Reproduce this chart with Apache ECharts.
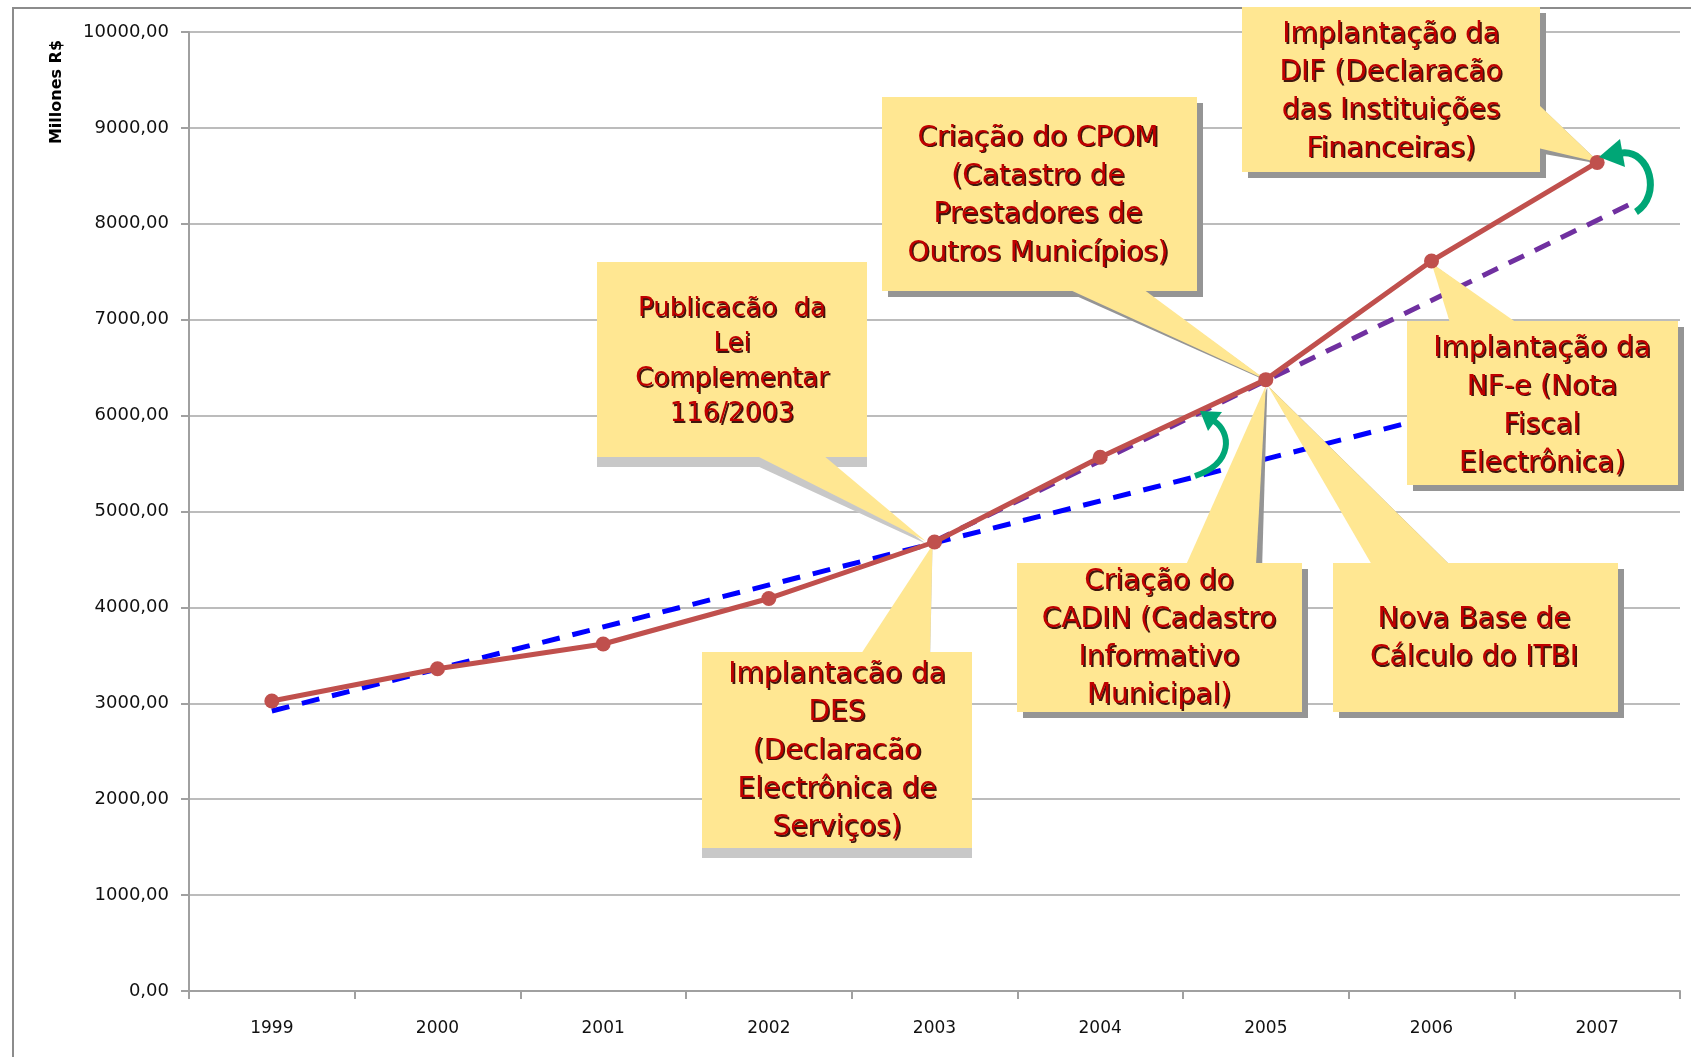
<!DOCTYPE html>
<html><head><meta charset="utf-8">
<script src="https://cdn.jsdelivr.net/npm/echarts@6/dist/echarts.min.js"></script>
<style>html,body{margin:0;padding:0;background:#fff}#c{width:1691px;height:1057px}</style>
</head><body><div id="c"></div>
<script>
// ---- data ----
const years = ['1999','2000','2001','2002','2003','2004','2005','2006','2007'];
const revenue = [3024, 3360, 3618, 4093, 4682, 5566, 6375, 7612, 8640];
const trendBlue = [[0, 2920], [6.85, 5920]];
const trendPurple = [[4, 4690], [8.23, 8230]];
const yMin = 0, yMax = 10000, yStep = 1000;
const axisName = 'Millones R$';
const calloutTexts = [
  'Publicacão  da\nLei\nComplementar\n116/2003',
  'Implantacão da\nDES\n(Declaracão\nElectrônica de\nServiços)',
  'Criação do CPOM\n(Catastro de\nPrestadores de\nOutros Municípios)',
  'Implantação da\nDIF (Declaracão\ndas Instituições\nFinanceiras)',
  'Implantação da\nNF-e (Nota\nFiscal\nElectrônica)',
  'Criação do\nCADIN (Cadastro\nInformativo\nMunicipal)',
  'Nova Base de\nCálculo do ITBI'
];
const calloutYearIndex = [4, 4, 6, 8, 7, 6, 6];

// ---- layout (positions / styles) ----
const layout = [
  {x:597,y:262,w:270,h:195, base:[[755,455],[823,455]], tip:[-9,-1], tx:732, ty:362, lh:35, fs:26, sh:'light'},
  {x:702,y:652,w:270,h:196, base:[[861,654],[930,654]], tip:[-2,3], tx:837, ty:751.5, lh:38.3, fs:28, sh:'light'},
  {x:882,y:97,w:315,h:194, base:[[1068,289],[1143,289]], tip:[0,0], tx:1038, ty:196, lh:38.3, fs:28, sh:'dark'},
  {x:1242,y:7,w:298,h:165, base:[[1538,104],[1538,148]], tip:[2,0], tx:1391, ty:92, lh:38.2, fs:28, sh:'dark'},
  {x:1407,y:321,w:271,h:164, base:[[1450,323],[1517,323]], tip:[0,2], tx:1542, ty:406.5, lh:38.3, fs:28, sh:'dark'},
  {x:1017,y:563,w:285,h:149, base:[[1186,565],[1256,565]], tip:[0,6], tx:1159, ty:639, lh:38, fs:28, sh:'dark'},
  {x:1333,y:563,w:285,h:149, base:[[1372,565],[1450,565]], tip:[2,6], tx:1474, ty:639, lh:38, fs:28, sh:'dark'}
];
const FONT = '"DejaVu Sans", Verdana, sans-serif';
const BOX = '#ffe792';

const chart = echarts.init(document.getElementById('c'), null, {renderer:'canvas'});
const axisGray = '#a0a0a0';
chart.setOption({
  animation: false,
  backgroundColor: '#fff',
  grid: {left:189, right:11, top:32, bottom:66, containLabel:false},
  xAxis: [
    {type:'category', data: years, boundaryGap:true,
     axisLine:{show:true, onZero:false, lineStyle:{color:axisGray, width:2}},
     axisTick:{show:true, length:8, inside:false, alignWithLabel:false, lineStyle:{color:axisGray, width:2}},
     axisLabel:{color:'#111', fontSize:17, fontFamily:FONT, margin:29},
     splitLine:{show:false}},
    {type:'value', min:-0.5, max:8.5, show:false}
  ],
  yAxis: {type:'value', min:yMin, max:yMax, interval:yStep,
    axisLine:{show:true, onZero:false, lineStyle:{color:axisGray, width:2}},
    axisTick:{show:true, length:8, inside:false, lineStyle:{color:axisGray, width:2}},
    axisLabel:{color:'#111', fontSize:18, fontFamily:FONT, margin:20,
      formatter: v => v.toFixed(2).replace('.', ',')},
    splitLine:{show:true, lineStyle:{color:'#a6a6a6', width:1.5}}},
  series: [
    {type:'line', xAxisIndex:1, data:trendBlue, symbol:'none', silent:true, z:2,
     lineStyle:{color:'#0000ff', width:5, type:[18,13]}},
    {type:'line', xAxisIndex:1, data:trendPurple, symbol:'none', silent:true, z:3,
     lineStyle:{color:'#7030a0', width:5, type:[17,12]}},
    {type:'line', xAxisIndex:0, data:revenue, symbol:'circle', symbolSize:15, z:100,
     lineStyle:{color:'#c0504d', width:5}, itemStyle:{color:'#c0504d'}}
  ]
});

const els = [];
// outer frame
els.push({type:'rect', shape:{x:13, y:8, width:1700, height:1100}, style:{fill:'none', stroke:'#8c8c8c', lineWidth:2}, z:1, silent:true});
// axis name
els.push({type:'text', x:57, y:92, rotation:Math.PI/2, z:60,
  style:{text:axisName, font:'bold 16px ' + FONT, fill:'#000', textAlign:'center', textVerticalAlign:'middle'}});

layout.forEach((L, i) => {
  const p = chart.convertToPixel({xAxisIndex:1, yAxisIndex:0}, [calloutYearIndex[i], revenue[calloutYearIndex[i]]]);
  const tip = [p[0] + L.tip[0], p[1] + L.tip[1]];
  const off = L.sh === 'light' ? [0, 10] : [6, 6];
  const shColor = L.sh === 'light' ? '#c8c8c8' : '#959595';
  els.push({type:'rect', shape:{x:L.x+off[0], y:L.y+off[1], width:L.w, height:L.h}, style:{fill:shColor}, z:40, silent:true});
  els.push({type:'polygon', shape:{points:[
    [L.base[0][0]+off[0], L.base[0][1]+off[1]],
    [L.base[1][0]+off[0], L.base[1][1]+off[1]],
    [tip[0]+off[0]*0.25, tip[1]+off[1]*0.25]]}, style:{fill:shColor}, z:40, silent:true});
  els.push({type:'rect', shape:{x:L.x, y:L.y, width:L.w, height:L.h}, style:{fill:BOX}, z:50, silent:true});
  els.push({type:'polygon', shape:{points:[L.base[0], L.base[1], tip]}, style:{fill:BOX}, z:50, silent:true});
  els.push({type:'text', x:L.tx, y:L.ty, z:60, silent:true,
    style:{text:calloutTexts[i], font:L.fs + 'px ' + FONT, fill:'#c00000',
      textAlign:'center', textVerticalAlign:'middle', lineHeight:L.lh,
      shadowColor:'rgba(40,0,0,0.9)', shadowOffsetX:1.6, shadowOffsetY:1.6, shadowBlur:0.5,
      textShadowColor:'rgba(40,0,0,0.9)', textShadowOffsetX:1.6, textShadowOffsetY:1.6, textShadowBlur:0.5}});
});

// green curved arrows (annotations)
const GREEN = '#00a676';
els.push({type:'bezierCurve', z:120, silent:true,
  shape:{x1:1636, y1:212, cpx1:1662, cpy1:195, cpx2:1650, cpy2:150, x2:1622, y2:153},
  style:{stroke:GREEN, lineWidth:7, fill:'none'}});
els.push({type:'polygon', z:120, silent:true,
  shape:{points:[[1599,157],[1625,167],[1620,139]]}, style:{fill:GREEN}});
els.push({type:'bezierCurve', z:120, silent:true,
  shape:{x1:1195, y1:476, cpx1:1234, cpy1:463, cpx2:1231, cpy2:432, x2:1214, y2:421},
  style:{stroke:GREEN, lineWidth:6, fill:'none'}});
els.push({type:'polygon', z:120, silent:true,
  shape:{points:[[1200,411],[1222,412],[1208,431]]}, style:{fill:GREEN}});

chart.setOption({graphic:{elements:els}});
</script>
</body></html>
